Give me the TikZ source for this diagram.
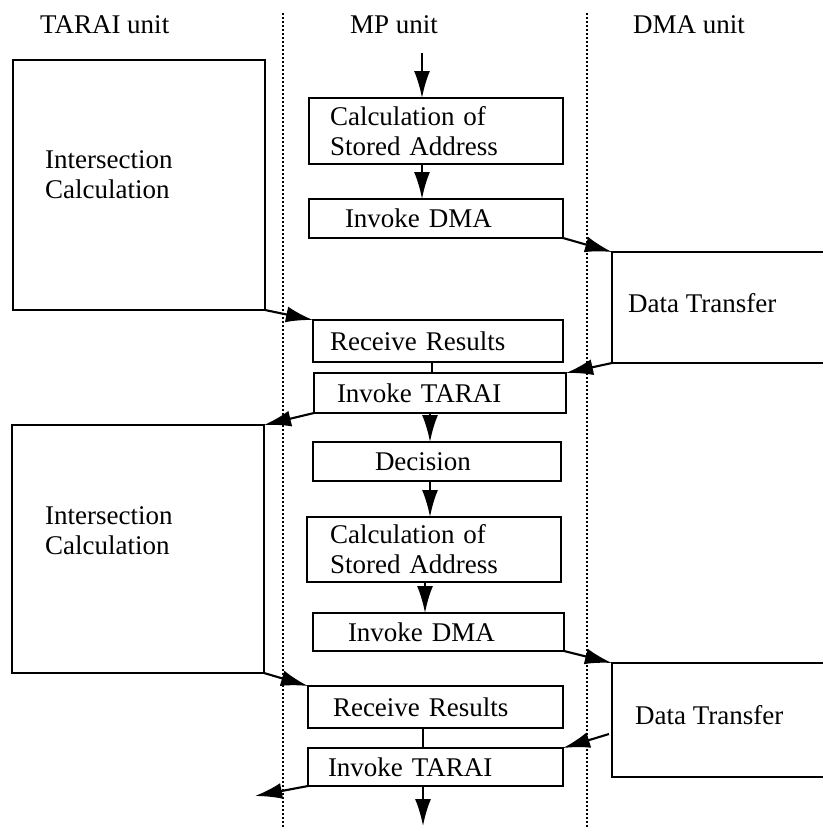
\documentclass[tikz,border=0pt]{standalone}
\usepackage{fontspec}
\setmainfont{Liberation Serif}
\usetikzlibrary{arrows.meta,calc}
\begin{document}
\begin{tikzpicture}[x=1pt,y=-1pt,
  every node/.style={font=\fontsize{27}{30}\selectfont},
  box/.style={draw, line width=2.1pt, anchor=north west, align=left,
              inner ysep=0pt, outer sep=0pt},
  caption/.style={anchor=west, align=left, inner sep=0pt},
  head/.style={anchor=base west, inner sep=0pt},
  lane/.style={line width=2.6pt, dash pattern=on 2.4pt off 1.6pt},
  flow/.style={line width=2.1pt, -{Latex[length=27pt,width=16pt]}},
  link/.style={line width=2.1pt}]
\useasboundingbox (0,0) rectangle (823,827);

% swim-lane separators and headings
\draw[lane] (283,13) -- (283,827);
\draw[lane] (587,13) -- (587,827);
\node[head] (hT) at (40,33) {TARAI unit};
\node[head] (hM) at (350,33) {MP unit};
\node[head] (hD) at (633,33) {DMA unit};

% TARAI unit
\node[box, minimum width=252pt, minimum height=250pt] (inter1) at (13,60) {};
\node[caption] (inter1txt) at (45,175) {Intersection\\Calculation};
\node[box, minimum width=252pt, minimum height=248pt] (inter2) at (12,425) {};
\node[caption] (inter2txt) at (45,531) {Intersection\\Calculation};

% MP unit
\node[box, minimum height=66pt, text width=212pt, inner xsep=21pt] (calc1) at (309,98) {Calculation of\\Stored Address};
\node[box, minimum height=39pt, text width=182pt, inner xsep=36pt] (dma1) at (309,199) {Invoke DMA};
\node[box, minimum height=42pt, text width=216pt, inner xsep=17pt] (recv1) at (313,320) {Receive Results};
\node[box, minimum height=40pt, text width=206pt, inner xsep=23pt] (tarai1) at (314,373) {Invoke TARAI};
\node[box, minimum height=39pt, text width=124pt, inner xsep=62pt] (dec) at (313,442) {Decision};
\node[box, minimum height=65pt, text width=208pt, inner xsep=23pt] (calc2) at (307,517) {Calculation of\\Stored Address};
\node[box, minimum height=38pt, text width=181pt, inner xsep=35pt] (dma2) at (313,613) {Invoke DMA};
\node[box, minimum height=42pt, text width=205pt, inner xsep=25pt] (recv2) at (308,686) {Receive Results};
\node[box, minimum height=38pt, text width=215pt, inner xsep=20pt] (tarai2) at (308,748) {Invoke TARAI};

% DMA unit (boxes run off the right edge)
\coordinate (dt1nw) at (612,252);
\coordinate (dt1sw) at (612,363);
\draw[link] (823,252) -- (dt1nw) -- (dt1sw) -- (823,363);
\node[caption] (dt1txt) at (628,303) {Data Transfer};
\coordinate (dt2nw) at (612,663);
\coordinate (dt2sw) at (612,777);
\coordinate (dt2out) at (609,734);
\draw[link] (823,663) -- (dt2nw) -- (dt2sw) -- (823,777);
\node[caption] (dt2txt) at (635,715) {Data Transfer};

% x positions of the vertical MP connectors
\coordinate (ma) at (422,0);
\coordinate (mb) at (432,0);
\coordinate (mc) at (430,0);
\coordinate (md) at (425,0);
\coordinate (me) at (423,0);
\coordinate (mpin) at (422,53);
\coordinate (tout) at (255,796);
\coordinate (mout) at (423,826);

% control flow
\draw[flow] (mpin) -- (calc1.north -| ma);
\draw[flow] (calc1.south -| ma) -- (dma1.north -| ma);
\draw[flow] (dma1.south east) -- (dt1nw);
\draw[flow] (inter1.south east) -- (recv1.north west);
\draw[link] (recv1.south -| mb) -- (tarai1.north -| mb);
\draw[flow] (dt1sw) -- (tarai1.north east);
\draw[flow] (tarai1.south west) -- (inter2.north east);
\draw[flow] (tarai1.south -| mc) -- (dec.north -| mc);
\draw[flow] (dec.south -| mc) -- (calc2.north -| mc);
\draw[flow] (calc2.south -| md) -- (dma2.north -| md);
\draw[flow] (dma2.south east) -- (dt2nw);
\draw[flow] (inter2.south east) -- (recv2.north west);
\draw[link] (recv2.south -| me) -- (tarai2.north -| me);
\draw[flow] (dt2out) -- (tarai2.north east);
\draw[flow] (tarai2.south west) -- (tout);
\draw[flow] (tarai2.south -| me) -- (mout);
\end{tikzpicture}
\end{document}
